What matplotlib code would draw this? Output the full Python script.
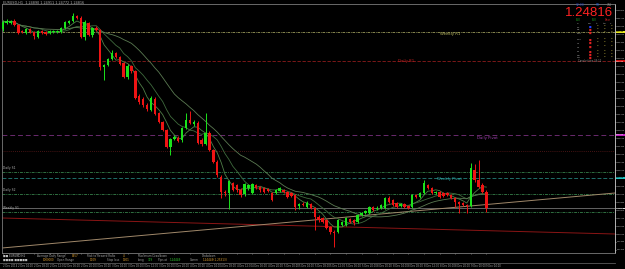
import matplotlib
matplotlib.use('Agg')
import matplotlib.pyplot as plt
import matplotlib.transforms as mtransforms
import numpy as np
import pandas as pd

# EURUSD H1 candles
opens = [1.2661, 1.2667, 1.2667, 1.2669, 1.2665, 1.2659, 1.2657, 1.2661, 1.2658, 1.2653,
         1.2659, 1.2658, 1.2657, 1.2658, 1.2658, 1.2658, 1.2662, 1.2667, 1.2669, 1.2674,
         1.2672, 1.2653, 1.2667, 1.2655, 1.2662, 1.2660, 1.2623, 1.2625, 1.2631, 1.2637,
         1.2633, 1.2627, 1.2613, 1.2624, 1.2619, 1.2594, 1.2591, 1.2585, 1.2580, 1.2591,
         1.2577, 1.2568, 1.2560, 1.2543, 1.2551, 1.2552, 1.2550, 1.2562, 1.2570, 1.2566,
         1.2567, 1.2550, 1.2546, 1.2557, 1.2540, 1.2528, 1.2513, 1.2498, 1.2497, 1.2507,
         1.2505, 1.2500, 1.2496, 1.2502, 1.2497, 1.2505, 1.2503, 1.2502, 1.2501, 1.2497,
         1.2497, 1.2499, 1.2500, 1.2498, 1.2497, 1.2495, 1.2484, 1.2486, 1.2483, 1.2486,
         1.2482, 1.2473, 1.2472, 1.2470, 1.2463, 1.2458, 1.2458, 1.2465, 1.2465, 1.2471,
         1.2470, 1.2468, 1.2475, 1.2477, 1.2477, 1.2483, 1.2481, 1.2482, 1.2482, 1.2492,
         1.2490, 1.2487, 1.2484, 1.2486, 1.2484, 1.2483, 1.2495, 1.2493, 1.2497, 1.2505,
         1.2502, 1.2497, 1.2498, 1.2497, 1.2497, 1.2495, 1.2492, 1.2488, 1.2487, 1.2485,
         1.2484, 1.2520, 1.2510, 1.2505, 1.2498]
highs = [1.2670, 1.2671, 1.2670, 1.2671, 1.2666, 1.2660, 1.2662, 1.2662, 1.2659, 1.2660,
         1.2660, 1.2659, 1.2660, 1.2660, 1.2660, 1.2663, 1.2669, 1.2670, 1.2677, 1.2675,
         1.2674, 1.2670, 1.2668, 1.2663, 1.2664, 1.2661, 1.2626, 1.2632, 1.2640, 1.2638,
         1.2634, 1.2628, 1.2626, 1.2625, 1.2620, 1.2596, 1.2593, 1.2587, 1.2594, 1.2593,
         1.2578, 1.2569, 1.2561, 1.2552, 1.2555, 1.2554, 1.2563, 1.2577, 1.2579, 1.2570,
         1.2569, 1.2552, 1.2577, 1.2559, 1.2541, 1.2530, 1.2515, 1.2500, 1.2510, 1.2508,
         1.2506, 1.2502, 1.2507, 1.2506, 1.2507, 1.2506, 1.2504, 1.2503, 1.2502, 1.2498,
         1.2501, 1.2503, 1.2501, 1.2499, 1.2498, 1.2496, 1.2487, 1.2488, 1.2489, 1.2487,
         1.2483, 1.2475, 1.2473, 1.2471, 1.2464, 1.2460, 1.2471, 1.2469, 1.2473, 1.2472,
         1.2471, 1.2476, 1.2478, 1.2480, 1.2484, 1.2484, 1.2484, 1.2486, 1.2493, 1.2494,
         1.2491, 1.2488, 1.2487, 1.2487, 1.2485, 1.2496, 1.2496, 1.2498, 1.2510, 1.2506,
         1.2503, 1.2499, 1.2499, 1.2498, 1.2498, 1.2496, 1.2493, 1.2489, 1.2488, 1.2486,
         1.2527, 1.2526, 1.2530, 1.2507, 1.2500]
lows = [1.2659, 1.2666, 1.2666, 1.2664, 1.2656, 1.2657, 1.2656, 1.2657, 1.2651, 1.2652,
        1.2656, 1.2655, 1.2656, 1.2657, 1.2657, 1.2657, 1.2661, 1.2666, 1.2668, 1.2671,
        1.2652, 1.2650, 1.2654, 1.2653, 1.2659, 1.2620, 1.2610, 1.2624, 1.2630, 1.2632,
        1.2625, 1.2612, 1.2611, 1.2617, 1.2591, 1.2586, 1.2583, 1.2579, 1.2579, 1.2575,
        1.2567, 1.2559, 1.2542, 1.2535, 1.2550, 1.2548, 1.2548, 1.2561, 1.2566, 1.2564,
        1.2546, 1.2544, 1.2545, 1.2539, 1.2527, 1.2513, 1.2492, 1.2494, 1.2481, 1.2499,
        1.2498, 1.2493, 1.2494, 1.2500, 1.2496, 1.2501, 1.2498, 1.2497, 1.2498, 1.2489,
        1.2496, 1.2498, 1.2497, 1.2492, 1.2493, 1.2480, 1.2481, 1.2484, 1.2482, 1.2481,
        1.2460, 1.2468, 1.2467, 1.2461, 1.2456, 1.2443, 1.2457, 1.2464, 1.2464, 1.2467,
        1.2465, 1.2467, 1.2474, 1.2476, 1.2476, 1.2479, 1.2480, 1.2481, 1.2481, 1.2487,
        1.2484, 1.2482, 1.2483, 1.2482, 1.2481, 1.2482, 1.2492, 1.2492, 1.2496, 1.2501,
        1.2496, 1.2496, 1.2492, 1.2493, 1.2494, 1.2491, 1.2483, 1.2477, 1.2484, 1.2477,
        1.2483, 1.2508, 1.2502, 1.2497, 1.2478]
closes = [1.2668, 1.2669, 1.2669, 1.2665, 1.2657, 1.2658, 1.2661, 1.2658, 1.2654, 1.2659,
          1.2657, 1.2656, 1.2659, 1.2659, 1.2659, 1.2662, 1.2668, 1.2669, 1.2674, 1.2672,
          1.2653, 1.2668, 1.2655, 1.2662, 1.2660, 1.2623, 1.2625, 1.2631, 1.2637, 1.2633,
          1.2626, 1.2613, 1.2624, 1.2619, 1.2592, 1.2588, 1.2585, 1.2581, 1.2592, 1.2576,
          1.2568, 1.2560, 1.2543, 1.2551, 1.2553, 1.2549, 1.2562, 1.2570, 1.2567, 1.2568,
          1.2547, 1.2546, 1.2557, 1.2540, 1.2528, 1.2515, 1.2498, 1.2497, 1.2509, 1.2500,
          1.2500, 1.2495, 1.2506, 1.2505, 1.2506, 1.2502, 1.2500, 1.2498, 1.2499, 1.2490,
          1.2500, 1.2502, 1.2498, 1.2493, 1.2494, 1.2483, 1.2486, 1.2485, 1.2487, 1.2482,
          1.2473, 1.2470, 1.2468, 1.2462, 1.2458, 1.2457, 1.2470, 1.2468, 1.2472, 1.2468,
          1.2467, 1.2475, 1.2477, 1.2479, 1.2483, 1.2480, 1.2482, 1.2485, 1.2492, 1.2488,
          1.2485, 1.2483, 1.2486, 1.2483, 1.2482, 1.2495, 1.2493, 1.2497, 1.2507, 1.2502,
          1.2497, 1.2498, 1.2493, 1.2494, 1.2495, 1.2492, 1.2488, 1.2486, 1.2485, 1.2484,
          1.2522, 1.2510, 1.2503, 1.2498, 1.24816]

date_labels = ["2 Dec 2014", "2 Dec 04:00", "2 Dec 08:00", "2 Dec 12:00", "2 Dec 16:00", "2 Dec 20:00",
               "3 Dec 00:00", "3 Dec 04:00", "3 Dec 08:00", "3 Dec 12:00", "3 Dec 16:00", "3 Dec 20:00",
               "4 Dec 00:00", "4 Dec 04:00", "4 Dec 08:00", "4 Dec 12:00", "4 Dec 16:00", "4 Dec 20:00",
               "5 Dec 00:00", "5 Dec 04:00", "5 Dec 08:00", "5 Dec 12:00", "5 Dec 16:00", "5 Dec 20:00",
               "8 Dec 00:00", "8 Dec 04:00", "8 Dec 08:00", "8 Dec 12:00", "8 Dec 16:00", "8 Dec 20:00",
               "9 Dec 00:00", "9 Dec 04:00"]

# pivot / level lines
weekly_r1 = 1.2658
daily_r1 = 1.2629
daily_pivot = 1.2555
daily_s_dot = 1.2539
level_a = 1.2518
weekly_pivot = 1.2512
level_b = 1.2496
level_c = 1.2478
bid = 1.24816

# trend lines (start, end)
red_trend = [1.2472, 1.2456]
tan_trend = [1.2442, 1.2497]

ma_periods = [5, 10, 20]

W, H = 625, 269
opens, highs, lows, closes = map(np.array, (opens, highs, lows, closes))

fig = plt.figure(figsize=(6.25, 2.69), dpi=100, facecolor='black')
ax = fig.add_axes([2 / W, 16 / H, 613 / W, 249 / H], facecolor='black')


def fx(x):
    return x / W


def fy(y):
    return 1 - y / H


idx = np.arange(len(closes))
up = closes >= opens
colors = np.where(up, '#1be21b', '#ee1414')

# moving averages
cs = pd.Series(closes)
for n, c in zip(ma_periods, ['#4f7d47', '#3f6a3d', '#5b7a52']):
    ax.plot(idx, cs.rolling(n, min_periods=1).mean(), color=c, lw=0.6, zorder=2)

# candles
ax.vlines(idx, lows, highs, colors=colors, lw=0.7, zorder=3)
body_h = np.maximum(np.abs(closes - opens), 0.00008)
ax.bar(idx, body_h, bottom=np.minimum(opens, closes), width=0.62,
       color=colors, edgecolor='none', zorder=4)

# horizontal levels
ax.axhline(weekly_r1, color='#9a9a5c', lw=0.6, ls=(0, (3, 1, 1, 1)), zorder=1)
ax.axhline(daily_r1, color='#8e1c1c', lw=0.6, ls=(0, (4, 2)), zorder=1)
ax.axhline(daily_pivot, color='#6a2a6e', lw=0.7, ls=(0, (5, 3)), zorder=1)
ax.axhline(daily_s_dot, color='#5e1a1a', lw=0.6, ls=(0, (1, 1.5)), zorder=1)
ax.axhline(level_a, color='#2f6f40', lw=0.7, ls=(0, (3, 1, 1, 1)), zorder=1)
ax.axhline(weekly_pivot, color='#1f6f6a', lw=0.7, ls=(0, (4, 2)), zorder=1)
ax.axhline(level_b, color='#2f6f40', lw=0.7, ls=(0, (3, 1, 1, 1)), zorder=1)
ax.axhline(bid, color='#8a8a8a', lw=0.5, zorder=1)
ax.axhline(level_c, color='#2f6f40', lw=0.7, ls=(0, (3, 1, 1, 1)), zorder=1)

# trend lines
xl = (-0.2, 157.0)
ax.plot(xl, red_trend, color='#8a1515', lw=0.7, zorder=1)
ax.plot(xl, tan_trend, color='#a0886a', lw=0.7, zorder=1)

tr = mtransforms.blended_transform_factory(fig.transFigure, ax.transData)
ax.text(fx(440), weekly_r1 - 0.0002, 'Weekly R1', color='#b8b860', fontsize=2.8, transform=tr, va='center')
ax.text(fx(398), daily_r1, 'Daily R1', color='#c02020', fontsize=2.8, transform=tr, va='center')
ax.text(fx(477), daily_pivot - 0.0003, 'Daily Pivot', color='#a040b0', fontsize=2.8, transform=tr, va='center')
ax.text(fx(437), weekly_pivot - 0.0001, 'Weekly Pivot', color='#30b0b0', fontsize=2.8, transform=tr, va='center')
for lv, name in [(level_a, 'Daily S1'), (level_b, 'Daily S2'), (level_c, 'Weekly S1')]:
    ax.text(fx(3), lv + 0.0004, name, color='#b0b0b0', fontsize=2.2, transform=tr, va='center')

ax.set_xlim(*xl)
ax.set_ylim(1.2437, 1.2686)

# axes / ticks
ax.yaxis.tick_right()
price_ticks = np.arange(1.2440, 1.26805, 0.0008)
ax.set_yticks(price_ticks)
ax.set_yticklabels([f'{t:.5f}' for t in price_ticks])
ax.tick_params(axis='y', colors='#c8c8c8', labelsize=1.45, length=1.0, width=0.4, pad=0.5)
ax.set_xticks(idx[::4])
ax.set_xticklabels(date_labels, ha='left')
ax.tick_params(axis='x', colors='#a8a8a8', labelsize=1.8, length=1, width=0.4, pad=7.2)
for s in ['left', 'top', 'bottom']:
    ax.spines[s].set_color('#7a7a7a')
    ax.spines[s].set_linewidth(0.6)
ax.spines['right'].set_color('#d0d0d0')
ax.spines['right'].set_linewidth(0.6)

# coloured price tags on the right scale
trr = mtransforms.blended_transform_factory(ax.transAxes, ax.transData)
for lv, bg, fg in [(weekly_r1, '#e8e820', 'black'), (daily_r1, '#d01010', 'white'),
                   (daily_pivot, '#c020c0', 'white'), (weekly_pivot, '#20c0c0', 'black'),
                   (bid, '#d8d8d8', 'black')]:
    ax.text(1.002, lv, f'{lv:.5f}', transform=trr, fontsize=1.45, color=fg, va='center',
            ha='left', clip_on=False, zorder=6,
            bbox=dict(boxstyle='square,pad=0.15', fc=bg, ec='none'))

# top-left header
fig.text(fx(3), fy(3), 'EURUSD,H1  1.24890 1.24911 1.24772 1.24816', color='#b0b0b0',
         fontsize=2.4, va='center')

# top-right widget
fig.text(fx(613), fy(13), '1.24816', color='#ff2222', fontsize=9.5, ha='right', va='center',
         family='Liberation Sans')
fig.text(fx(576), fy(5), '12:00', color='#2040c0', fontsize=2.2, va='center')
fig.text(fx(596), fy(5), '58', color='#2060e0', fontsize=2.2, va='center')
fig.text(fx(607), fy(5), '7/4', color='#a0a0a0', fontsize=2.2, va='center')
fig.text(fx(576), fy(20), 'Bull', color='#20a020', fontsize=1.9, va='center')
fig.text(fx(592), fy(20), 'Bull', color='#20a020', fontsize=1.9, va='center')
fig.text(fx(605), fy(20), 'Bear', color='#c02020', fontsize=1.9, va='center')
for x, t in zip([577, 588, 596, 603, 610], ['TF', 'CCI', 'St', 'Sto', 'Tr']):
    fig.text(fx(x), fy(23.5), t, color='#c0c0c0', fontsize=1.6, va='center')
rows = [('M1', 27), ('M5', 30), ('M15', 33), ('M30', 40), ('H1', 43), ('H4', 47),
        ('D1', 52), ('W1', 55), ('MN', 58)]
for k, (tf, y) in enumerate(rows):
    fig.text(fx(577), fy(y), tf, color='#c0c0c0', fontsize=1.6, va='center')
    fig.text(fx(590), fy(y), '■', color='#2040ff' if k == 0 else '#e02020', fontsize=2.0,
             va='center', ha='center')
    for x in [597, 604, 611]:
        fig.text(fx(x), fy(y), '•', color='#c8b840', fontsize=2.2, va='center', ha='center')
fig.text(fx(578), fy(61), 'Candle time 34:12', color='#909090', fontsize=1.8, va='center')

# bottom info band
fig.add_artist(plt.Line2D([0, 615 / W], [fy(262.5)] * 2, transform=fig.transFigure,
                          color='#5a5a5a', lw=0.6))
row1 = [(3, '■■ EURUSD,H1', '#c0c0c0'), (37, 'Average Daily Range', '#a0a0a0'),
        (72, '5457', '#e0a030'), (87, 'Risk to Reward Ratio', '#a0a0a0'),
        (123, '4', '#e0a030'), (138, 'Maximum Drawdown', '#a0a0a0'),
        (202, 'Drawdown', '#a0a0a0')]
row2 = [(3, '■■■■ ■■■■■', '#c0c0c0'), (43, '1000000', '#e0a030'), (57, 'Open Range', '#a0a0a0'),
        (90, '1109', '#e0a030'), (107, 'Stop loss', '#a0a0a0'), (123, '1301', '#e0a030'),
        (138, 'Long', '#a0a0a0'), (148, '379', '#30d030'), (158, 'Pips at', '#a0a0a0'),
        (170, '1.24449', '#30d030'), (190, 'Comm', '#a0a0a0'), (203, '1.24449(1.25313)', '#e0a030')]
for x, t, c in row1:
    fig.text(fx(x), fy(256), t, color=c, fontsize=2.0, va='center')
for x, t, c in row2:
    fig.text(fx(x), fy(260), t, color=c, fontsize=2.0, va='center')

fig.savefig('out.png', dpi=100, facecolor='black')
